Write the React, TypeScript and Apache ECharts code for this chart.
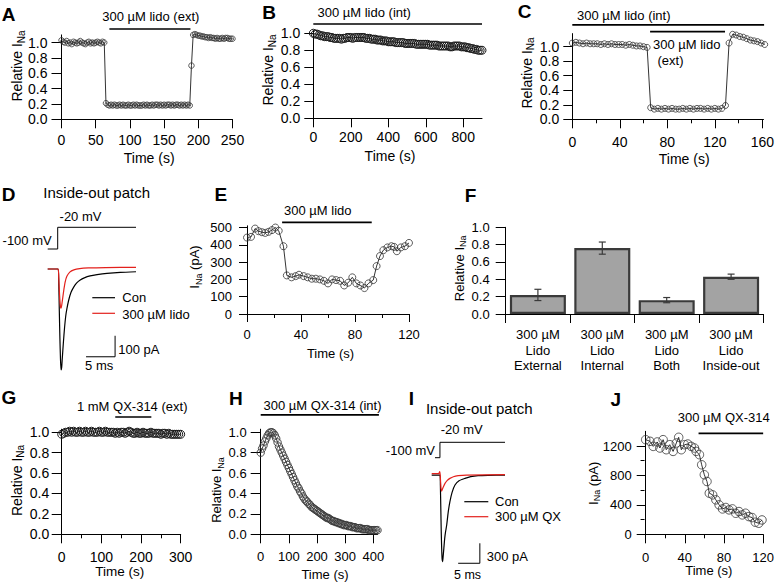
import { useEffect, useRef } from "react";
import * as echarts from "echarts";

const FONT = '"Liberation Sans", Arial, Helvetica, sans-serif';
const RED = "#e3211c";

// ---------------- Panel A : 300 µM lido (ext) ----------------
const aDt = 2.5; // s between sweeps
const aValues = [
  1.03, 1.01, 1.0, 1.02, 0.99, 1.0, 0.98, 1.01, 1.0, 0.99,
  1.0, 1.02, 1.0, 0.99, 0.98, 1.0, 1.01, 0.99, 1.0, 0.99,
  1.0, 1.01, 1.0, 0.99, 1.01, 1.0,
  0.21, 0.19, 0.18, 0.19, 0.18, 0.19, 0.18, 0.18, 0.19, 0.18,
  0.19, 0.18, 0.18, 0.19, 0.18, 0.18, 0.19, 0.18, 0.19, 0.18,
  0.18, 0.18, 0.19, 0.18, 0.19, 0.18, 0.18, 0.19, 0.18, 0.19,
  0.19, 0.18, 0.19, 0.18, 0.19, 0.18, 0.19, 0.19, 0.18, 0.19,
  0.18, 0.19, 0.19, 0.18, 0.19, 0.18, 0.19, 0.18, 0.19, 0.18,
  0.7,
  1.1, 1.11, 1.1, 1.09, 1.09, 1.08, 1.08, 1.07, 1.07, 1.06,
  1.07, 1.06, 1.06, 1.05, 1.06, 1.05, 1.05, 1.06, 1.05, 1.06,
  1.06, 1.05, 1.05, 1.05,
];
const aDrug = [70, 188.5];
const aXTicks = [0, 50, 100, 150, 200, 250];
const relTicks = [0, 0.2, 0.4, 0.6, 0.8, 1.0];

// ---------------- Panel B : 300 µM lido (int) ----------------
const bDt = 10;
const bValues = [
  1.0, 0.99, 0.99, 0.98, 0.97, 0.97, 0.96, 0.96, 0.96, 0.95,
  0.95, 0.94, 0.94, 0.94, 0.94, 0.93, 0.94, 0.94, 0.95, 0.95,
  0.95, 0.94, 0.95, 0.95, 0.95, 0.95, 0.95, 0.95, 0.94, 0.94,
  0.94, 0.93, 0.93, 0.93, 0.92, 0.92, 0.92, 0.91, 0.91, 0.91,
  0.9, 0.9, 0.9, 0.9, 0.89, 0.89, 0.89, 0.89, 0.89, 0.88,
  0.88, 0.88, 0.88, 0.88, 0.88, 0.87, 0.87, 0.87, 0.87, 0.87,
  0.87, 0.87, 0.86, 0.86, 0.86, 0.86, 0.86, 0.85, 0.85, 0.85,
  0.85, 0.85, 0.85, 0.84, 0.84, 0.85, 0.85, 0.85, 0.85, 0.84,
  0.84, 0.84, 0.83, 0.83, 0.82, 0.82, 0.81, 0.81, 0.8, 0.8,
  0.8,
];
const bDrug = [0, 900];
const bXTicks = [0, 200, 400, 600, 800];

// ---------------- Panel C : int + ext ----------------
const cDt = 3;
const cValues = [
  1.05, 1.06, 1.05, 1.04, 1.05, 1.04, 1.04, 1.04, 1.03, 1.04,
  1.03, 1.04, 1.03, 1.03, 1.03, 1.02, 1.03, 1.02, 1.01, 1.01,
  1.0, 0.99,
  0.16, 0.14, 0.15, 0.14, 0.15, 0.14, 0.15, 0.14, 0.14, 0.15,
  0.14, 0.15, 0.14, 0.15, 0.15, 0.14, 0.15, 0.14, 0.15, 0.14,
  0.15,
  0.19,
  1.05, 1.17,
  1.16, 1.14, 1.13, 1.11, 1.09, 1.08, 1.07, 1.05, 1.03,
];
const cDrugInt = [0, 161.5];
const cDrugExt = [65.5, 128.6];
const cXMajor = [0, 40, 80, 120, 160];
const cXMinor = [20, 60, 100, 140];

// ---------------- Panel D : inside-out patch, lido ----------------
const dVoltage = [[0, -100], [1.72, -100], [1.72, -20], [15.2, -20]];
const dCon = [
  [0, 0], [1.0, 0], [1.8, 0], [1.9, -60], [2.0, -200], [2.1, -330], [2.2, -430],
  [2.3, -481], [2.4, -470], [2.5, -430], [2.7, -350], [2.9, -280], [3.1, -225],
  [3.3, -190], [3.6, -150], [4.0, -112], [4.5, -85], [5.0, -66], [5.6, -52],
  [6.3, -42], [7.3, -33], [8.5, -27], [10.2, -21], [12.5, -16], [15.2, -13],
];
const dLido = [
  [0, 0], [1.8, 0], [1.9, -40], [2.0, -100], [2.1, -150], [2.2, -180], [2.3, -187],
  [2.4, -175], [2.6, -135], [2.8, -95], [3.0, -62], [3.3, -35], [3.8, -15],
  [4.5, -4], [5.5, 2], [7, 5], [10, 7], [15.2, 8],
];
const dScaleBar = [[6.6, -418], [11.6, -418], [11.6, -318]]; // 5 ms x 100 pA

// ---------------- Panel E : INa (pA) ----------------
const eTimes = [
  0, 3, 6, 8.5, 11, 13.5, 16, 18.5, 21, 23.5,
  27, 29.5, 33, 36, 38.5, 42, 45, 48, 51, 54,
  57, 60, 63, 66, 69, 72, 75, 78, 81, 84,
  87, 90, 93.5, 96, 98.5, 101, 104, 107, 109, 111,
  114, 117, 120,
];
const eValues = [
  442, 446, 494, 479, 473, 469, 475, 485, 500, 481,
  392, 223, 212, 219, 227, 219, 212, 204, 204, 200,
  192, 177, 200, 196, 192, 165, 181, 212, 177, 165,
  150, 177, 196, 277, 335, 369, 385, 392, 388, 363,
  385, 392, 411,
];
const eDrug = [26, 92.4];
const eXMajor = [0, 40, 80, 120];
const eXMinor = [20, 60, 100];
const eYTicks = [0, 100, 200, 300, 400, 500];

// ---------------- Panel F : summary bars ----------------
const fCategories = ["External", "Internal", "Both", "Inside-out"];
const fMeans = [0.22, 0.76, 0.16, 0.43];
const fErrors = [0.065, 0.07, 0.03, 0.03];

// ---------------- Panel G : 1 mM QX-314 (ext) ----------------
const gDt = 5;
const gValues = [
  0.98, 0.99, 1.0, 1.0, 1.01, 1.0, 1.01, 1.0, 1.0, 1.01,
  1.0, 1.0, 1.01, 1.0, 1.0, 1.01, 1.0, 1.0, 1.0, 1.01,
  1.0, 1.0, 1.01, 1.0, 1.0, 1.0, 1.0, 0.99, 1.0, 0.99,
  1.0, 1.0, 0.99, 1.0, 1.01, 1.0, 0.99, 0.99, 1.0, 0.99,
  0.99, 1.0, 0.99, 0.99, 0.99, 1.0, 0.99, 0.99, 0.99, 0.99,
  0.98, 0.99, 0.99, 0.98, 0.99, 0.98, 0.98, 0.98, 0.98, 0.98,
  0.98,
];
const gDrug = [135, 226];
const gXMajor = [0, 100, 200, 300];
const gXMinor = [50, 150, 250];

// ---------------- Panel H : 300 µM QX-314 (int) ----------------
const hDt = 5;
const hValues = [
  0.8, 0.84, 0.87, 0.91, 0.94, 0.97, 0.99, 1.0, 1.0, 0.99,
  0.97, 0.94, 0.9, 0.86, 0.83, 0.8, 0.77, 0.74, 0.71, 0.68,
  0.65, 0.62, 0.59, 0.56, 0.53, 0.5, 0.47, 0.45, 0.42, 0.4,
  0.37, 0.35, 0.33, 0.32, 0.3, 0.29, 0.27, 0.26, 0.25, 0.24,
  0.23, 0.22, 0.21, 0.2, 0.19, 0.18, 0.17, 0.16, 0.16, 0.15,
  0.14, 0.13, 0.13, 0.12, 0.12, 0.11, 0.11, 0.1, 0.1, 0.09,
  0.09, 0.09, 0.08, 0.08, 0.08, 0.07, 0.07, 0.07, 0.06, 0.06,
  0.06, 0.06, 0.05, 0.05, 0.05, 0.05, 0.05, 0.04, 0.04, 0.04,
  0.04, 0.04, 0.04, 0.04,
];
const hDrug = [0, 420];
const hXTicks = [0, 100, 200, 300, 400];

// ---------------- Panel I : inside-out patch, QX ----------------
const iVoltage = [[0.76, -100], [1.9, -100], [1.9, -20], [16.9, -20]];
const iCon = [
  [0, 0], [1.9, 0], [2.0, -150], [2.1, -500], [2.2, -850], [2.3, -1100], [2.4, -1260],
  [2.5, -1300], [2.6, -1250], [2.8, -1100], [3.0, -950], [3.2, -850], [3.46, -750],
  [3.8, -560], [4.2, -400], [4.7, -260], [5.37, -150], [6.3, -85], [7.67, -50],
  [9, -25], [10.7, -10], [13, -4], [16.9, 0],
];
const iQX = [
  [0, 20], [1.6, 20], [1.85, 50], [1.95, 10], [2.05, -100], [2.15, -200], [2.3, -240],
  [2.45, -215], [2.7, -175], [3.07, -125], [3.6, -80], [4.2, -50], [5, -25],
  [6.1, -10], [8, 0], [16.9, 5],
];
const iScaleBar = [[6.1, -1324], [11.1, -1324], [11.1, -1024]]; // 5 ms x 300 pA

// ---------------- Panel J : INa (pA) QX-314 ----------------
const jTimes = [
  0, 4.4, 7.7, 11.8, 14.5, 17.8, 21, 24.6, 28, 31.3,
  33.7, 36.4, 39.7, 43, 46.5, 49.8, 51.5, 54.9, 57.2, 59.9,
  62.6, 65, 68.4, 71.7, 75, 78.5, 81.8, 85.2, 88.6, 92,
  95.3, 98.7, 102, 105.4, 108.8, 112, 115.5, 118.8,
];
const jValues = [
  1286, 1264, 1195, 1255, 1173, 1286, 1150, 1218, 1127, 1241,
  1318, 1150, 1218, 1227, 1195, 1173, 1127, 1082, 945, 809,
  718, 559, 536, 468, 400, 345, 364, 332, 345, 286,
  309, 264, 286, 241, 227, 164, 150, 195,
];
const jDrug = [54, 120];
const jXMajor = [0, 40, 80, 120];
const jXMinor = [20, 60, 100];
const jYMajor = [0, 400, 800, 1200];
const jYMinor = [200, 600, 1000];

// ---------------- layout (pixels) ----------------
const GRIDS = [
  { left: 61.5, top: 34.9, width: 171, height: 84.4 }, // 0 A
  { left: 313.3, top: 30.7, width: 168.7, height: 87.6 }, // 1 B
  { left: 572.3, top: 33.6, width: 191.2, height: 85.7 }, // 2 C
  { left: 47.7, top: 258.5, width: 88.3, height: 115.5 }, // 3 D current
  { left: 47.7, top: 227.3, width: 88.3, height: 21.7 }, // 4 D voltage
  { left: 247, top: 225.8, width: 162, height: 88.2 }, // 5 E
  { left: 505.7, top: 227.3, width: 257.6, height: 86.7 }, // 6 F
  { left: 61.7, top: 429.2, width: 119, height: 105.1 }, // 7 G
  { left: 260.7, top: 429.2, width: 116.8, height: 105.1 }, // 8 H
  { left: 431.7, top: 471.7, width: 73.3, height: 93.3 }, // 9 I current
  { left: 431.7, top: 442.3, width: 73.3, height: 15.4 }, // 10 I voltage
  { left: 645.7, top: 431.3, width: 118.6, height: 103 }, // 11 J
];
// heights (in axis units) where the application bars are drawn
const LEVEL = { A: 1.177, B: 1.109, Cint: 1.3, Cext: 1.207, E: 530, G: 1.15, H: 1.17, J: 1372 };

const relFmt = (v: number) => v.toFixed(1);
const intFmt = (v: number) => String(v);

function xAx(gi: number, min: number, max: number, ticks: number[], margin: number, tickLen: number, fs: number) {
  return {
    type: "value", gridIndex: gi, min, max, position: "bottom",
    axisLine: { show: true, onZero: false, lineStyle: { color: "#000", width: 1 } },
    axisTick: { show: true, length: tickLen, lineStyle: { color: "#000", width: 1 }, customValues: ticks },
    axisLabel: { show: true, customValues: ticks, margin, color: "#000", fontSize: fs, fontFamily: FONT, formatter: intFmt },
    splitLine: { show: false },
  };
}
function yAx(gi: number, min: number, max: number, ticks: number[], margin: number, tickLen: number, fs: number, fmt: (v: number) => string) {
  return {
    type: "value", gridIndex: gi, min, max, position: "left",
    axisLine: { show: true, onZero: false, lineStyle: { color: "#000", width: 1 } },
    axisTick: { show: true, length: tickLen, lineStyle: { color: "#000", width: 1 }, customValues: ticks },
    axisLabel: { show: true, customValues: ticks, margin, color: "#000", fontSize: fs, fontFamily: FONT, formatter: fmt },
    splitLine: { show: false },
  };
}
// tick-only companion axes that carry the short unlabeled ticks
function minorX(gi: number, min: number, max: number, ticks: number[]) {
  return {
    type: "value", gridIndex: gi, min, max, position: "top", offset: -GRIDS[gi].height,
    axisLine: { show: false, onZero: false },
    axisTick: { show: true, inside: true, length: 4, lineStyle: { color: "#000", width: 1 }, customValues: ticks },
    axisLabel: { show: false },
    splitLine: { show: false },
  };
}
function minorY(gi: number, min: number, max: number, ticks: number[]) {
  return {
    type: "value", gridIndex: gi, min, max, position: "right", offset: -GRIDS[gi].width,
    axisLine: { show: false, onZero: false },
    axisTick: { show: true, inside: true, length: 4, lineStyle: { color: "#000", width: 1 }, customValues: ticks },
    axisLabel: { show: false },
    splitLine: { show: false },
  };
}
function hidden(gi: number, min: number, max: number) {
  return { type: "value", gridIndex: gi, min, max, show: false, splitLine: { show: false } };
}
function markers(k: number, data: number[][], size: number, border = "#333", bw = 0.8) {
  return {
    type: "line", xAxisIndex: k, yAxisIndex: k, data, clip: false, silent: true,
    symbol: "circle", symbolSize: size, showSymbol: true, showAllSymbol: true,
    lineStyle: { color: "#000", width: 0.8 },
    itemStyle: { color: "rgba(255,255,255,0)", borderColor: border, borderWidth: bw },
  };
}
function drug(k: number, range: number[], level: number) {
  return {
    type: "line", xAxisIndex: k, yAxisIndex: k, clip: false, silent: true, symbol: "none",
    data: [[range[0], level], [range[1], level]],
    lineStyle: { color: "#000", width: 1.6 },
  };
}
function trace(k: number, data: number[][], color: string, width: number, smooth: number) {
  return {
    type: "line", xAxisIndex: k, yAxisIndex: k, data, clip: false, silent: true, symbol: "none",
    smooth, lineStyle: { color, width },
  };
}
const sampled = (vals: number[], dt: number) => vals.map((v, i) => [i * dt, v]);
const paired = (t: number[], v: number[]) => t.map((x, i) => [x, v[i]]);

function T(x: number, y: number, text: string, fs = 13, align = "center", bold = false) {
  return {
    type: "text", x, y, silent: true,
    style: { text, fontSize: fs, fontFamily: FONT, fontWeight: bold ? "bold" : "normal", fill: "#000", align, verticalAlign: "middle" },
  };
}
function RT(x: number, y: number, main: string, sub: string, tail: string, fs: number) {
  const s = `{a|${main}}{s|${sub}}` + (tail ? `{a|${tail}}` : "");
  return {
    type: "text", x, y, rotation: Math.PI / 2, silent: true,
    style: {
      text: s, align: "center", verticalAlign: "middle",
      rich: {
        a: { fontSize: fs, fontFamily: FONT, fill: "#000", lineHeight: fs + 2, verticalAlign: "top" },
        s: { fontSize: Math.round(fs * 0.72), fontFamily: FONT, fill: "#000", lineHeight: Math.round(fs * 0.8), padding: [7, 0, 0, 0], verticalAlign: "bottom" },
      },
    },
  };
}
function L(x1: number, y1: number, x2: number, y2: number, color: string, w = 1.2) {
  return { type: "line", silent: true, shape: { x1, y1, x2, y2 }, style: { stroke: color, lineWidth: w } };
}

function buildOption() {
  const xAxis: any[] = [
    xAx(0, 0, 250, aXTicks, 13.5, 9, 14),
    xAx(1, 0, 900, bXTicks, 12, 9, 14),
    xAx(2, 0, 161, cXMajor, 16, 9, 14),
    hidden(3, 0, 15.2),
    hidden(4, 0, 15.2),
    xAx(5, 0, 120, eXMajor, 14, 8, 13),
    {
      type: "category", gridIndex: 6, data: fCategories, position: "bottom",
      axisLine: { show: true, onZero: false, lineStyle: { color: "#000", width: 1 } },
      axisTick: { show: true, length: 9, interval: 0, lineStyle: { color: "#000" } },
      axisLabel: {
        show: true, interval: 0, margin: 13, lineHeight: 15.5, color: "#000", fontSize: 13, fontFamily: FONT,
        formatter: (v: string) => `300 µM\nLido\n${v}`,
      },
      splitLine: { show: false },
    },
    xAx(7, 0, 300, gXMajor, 15.5, 9, 14),
    xAx(8, 0, 415, hXTicks, 15.5, 9, 13),
    hidden(9, 0, 16.9),
    hidden(10, 0, 16.9),
    xAx(11, 0, 120, jXMajor, 16.5, 9, 13),
    // minor-tick companions
    minorX(2, 0, 161, cXMinor),
    minorX(5, 0, 120, eXMinor),
    minorX(7, 0, 300, gXMinor),
    minorX(11, 0, 120, jXMinor),
  ];
  const yAxis: any[] = [
    yAx(0, 0, 1.1, relTicks, 14, 10, 14, relFmt),
    yAx(1, 0, 1.03, relTicks, 13, 9, 14, relFmt),
    yAx(2, 0, 1.18, relTicks, 13, 9, 14, relFmt),
    hidden(3, -500, 50),
    hidden(4, -100, -20),
    yAx(5, 0, 510, eYTicks, 15, 8, 13, intFmt),
    yAx(6, 0, 1.0, relTicks, 16, 10, 13, relFmt),
    yAx(7, 0, 1.03, relTicks, 12.5, 10, 14, relFmt),
    yAx(8, 0, 1.03, relTicks, 14, 10, 13, relFmt),
    hidden(9, -1350, 50),
    hidden(10, -100, -20),
    yAx(11, 0, 1400, jYMajor, 14, 9, 13, intFmt),
    minorY(11, 0, 1400, jYMinor),
  ];

  const errStyle = { stroke: "#3a3a3a", lineWidth: 1.2 };
  const series: any[] = [
    // A
    markers(0, sampled(aValues, aDt), 5.5),
    drug(0, aDrug, LEVEL.A),
    // B
    markers(1, sampled(bValues, bDt), 8, "#1a1a1a", 1),
    drug(1, bDrug, LEVEL.B),
    // C
    markers(2, sampled(cValues, cDt), 6),
    drug(2, cDrugInt, LEVEL.Cint),
    drug(2, cDrugExt, LEVEL.Cext),
    // D
    trace(3, dCon, "#000", 1.2, 0.2),
    trace(3, dLido, RED, 1.2, 0.2),
    trace(3, dScaleBar, "#000", 1, 0),
    trace(4, dVoltage, "#000", 1, 0),
    // E
    markers(5, paired(eTimes, eValues), 7),
    drug(5, eDrug, LEVEL.E),
    // F
    {
      type: "bar", xAxisIndex: 6, yAxisIndex: 6, data: fMeans, barWidth: 56, silent: true,
      itemStyle: { color: "#a3a3a3", borderColor: "#3a3a3a", borderWidth: 2.2 },
    },
    {
      type: "custom", xAxisIndex: 6, yAxisIndex: 6, silent: true, z: 10,
      data: fMeans.map((m, i) => [i, m, fErrors[i]]),
      encode: { x: 0, y: 1 },
      renderItem: (_p: any, api: any) => {
        const i = api.value(0);
        const m = api.value(1);
        const e = api.value(2);
        const top = api.coord([i, m + e]);
        const bot = api.coord([i, m - e]);
        const w = 3.5;
        return {
          type: "group",
          children: [
            { type: "line", shape: { x1: top[0], y1: top[1], x2: bot[0], y2: bot[1] }, style: errStyle },
            { type: "line", shape: { x1: top[0] - w, y1: top[1], x2: top[0] + w, y2: top[1] }, style: errStyle },
            { type: "line", shape: { x1: bot[0] - w, y1: bot[1], x2: bot[0] + w, y2: bot[1] }, style: errStyle },
          ],
        };
      },
    },
    // G
    markers(7, sampled(gValues, gDt), 8, "#1a1a1a", 1),
    drug(7, gDrug, LEVEL.G),
    // H
    markers(8, sampled(hValues, hDt), 7.5, "#3a3a3a", 0.9),
    drug(8, hDrug, LEVEL.H),
    // I
    trace(9, iCon, "#000", 1.2, 0.2),
    trace(9, iQX, RED, 1.2, 0.2),
    trace(9, iScaleBar, "#000", 1, 0),
    trace(10, iVoltage, "#000", 1, 0),
    // J
    markers(11, paired(jTimes, jValues), 8.5),
    drug(11, jDrug, LEVEL.J),
  ];

  const graphic: any[] = [
    // panel letters
    T(8.5, 14, "A", 19, "center", true),
    T(269, 12, "B", 19, "center", true),
    T(524.7, 11.5, "C", 19, "center", true),
    T(8.5, 194.5, "D", 19, "center", true),
    T(220.8, 194.5, "E", 19, "center", true),
    T(470.5, 195, "F", 19, "center", true),
    T(9, 397.5, "G", 19, "center", true),
    T(235.8, 398.7, "H", 19, "center", true),
    T(411.3, 398.7, "I", 19, "center", true),
    T(615.8, 399.5, "J", 19, "center", true),
    // application labels
    T(150.8, 16.3, "300 µM lido (ext)", 13),
    T(364.2, 12.5, "300 µM lido (int)", 13),
    T(623.8, 15.8, "300 µM lido (int)", 13),
    T(686.7, 44.2, "300 µM lido", 13),
    T(670.5, 60.8, "(ext)", 13),
    T(317.8, 210.5, "300 µM lido", 13),
    T(132.2, 406.7, "1 mM QX-314 (ext)", 13),
    T(322.5, 405.8, "300 µM QX-314 (int)", 13),
    T(723.7, 417.5, "300 µM QX-314", 13),
    // y titles
    RT(18.3, 66, "Relative I", "Na", "", 14),
    RT(269.3, 70, "Relative I", "Na", "", 14),
    RT(527.5, 73, "Relative I", "Na", "", 14),
    RT(195.8, 267, "I", "Na", " (pA)", 13),
    RT(460.3, 268.3, "Relative I", "Na", "", 13),
    RT(17.5, 480.5, "Relative I", "Na", "", 14),
    RT(217.5, 490, "Relative I", "Na", "", 13),
    RT(594, 483.3, "I", "Na", " (pA)", 13),
    // x titles
    T(149.2, 158.3, "Time (s)", 14),
    T(390, 155.8, "Time (s)", 14),
    T(684.2, 159.2, "Time (s)", 14),
    T(330.5, 353.3, "Time (s)", 13),
    T(119.7, 571.7, "Time (s)", 13.5),
    T(325, 574.5, "Time (s)", 13),
    T(708.8, 570.8, "Time (s)", 13),
    // D annotations
    T(96.7, 192.7, "Inside-out patch", 15),
    T(80.5, 216.7, "-20 mV", 13),
    T(51.7, 240, "-100 mV", 13, "right"),
    L(92.3, 297.7, 115, 297.7, "#000"),
    L(92.3, 313.3, 115, 313.3, RED),
    T(122.3, 297.5, "Con", 13, "left"),
    T(122.3, 314.2, "300 µM lido", 13, "left"),
    T(118.3, 349.2, "100 pA", 13, "left"),
    T(99.2, 365, "5 ms", 13),
    // I annotations
    T(479.3, 408.3, "Inside-out patch", 15),
    T(461.7, 429.7, "-20 mV", 13),
    T(435, 450.8, "-100 mV", 13, "right"),
    L(464.3, 501.7, 488.3, 501.7, "#000"),
    L(464.3, 516.7, 488.3, 516.7, RED),
    T(495, 501.7, "Con", 13, "left"),
    T(495, 516.7, "300 µM QX", 13, "left"),
    T(486.7, 556.7, "300 pA", 13, "left"),
    T(467.5, 574.5, "5 ms", 12.5),
  ];

  return {
    animation: false,
    backgroundColor: "#fff",
    grid: GRIDS.map((g) => ({ ...g, containLabel: false, show: false })),
    xAxis,
    yAxis,
    series,
    graphic,
  };
}

export default function App() {
  const ref = useRef<HTMLDivElement>(null);
  useEffect(() => {
    const chart = echarts.init(ref.current!, null, { renderer: "svg" });
    chart.setOption(buildOption() as any);
    return () => chart.dispose();
  }, []);
  return (
    <div
      ref={ref}
      style={{ position: "absolute", left: 0, top: 0, width: 777, height: 582, background: "#fff" }}
    />
  );
}
